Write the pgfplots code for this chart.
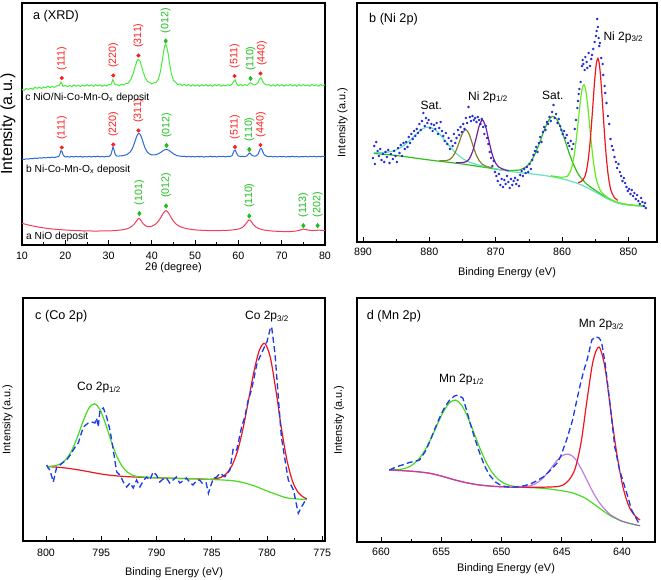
\documentclass[border=0pt]{standalone}
\usepackage{fontspec}
\setmainfont{Liberation Sans}
\usepackage{pgfplots}
\pgfplotsset{compat=1.18}

\definecolor{xgreen}{RGB}{70,235,60}
\definecolor{xblue}{RGB}{45,105,210}
\definecolor{xred}{RGB}{245,60,90}
\definecolor{lred}{RGB}{255,30,30}
\definecolor{lgreen}{RGB}{30,190,30}
\definecolor{dotblue}{RGB}{30,40,220}
\definecolor{fitred}{RGB}{240,20,30}
\definecolor{fitlime}{RGB}{100,235,30}
\definecolor{fitgreen}{RGB}{50,190,30}
\definecolor{fitpurple}{RGB}{120,30,160}
\definecolor{fitolive}{RGB}{130,130,50}
\definecolor{fitaqua}{RGB}{100,225,190}
\definecolor{dashblue}{RGB}{30,60,230}
\definecolor{mnpurple}{RGB}{170,80,220}
\definecolor{cogreen}{RGB}{70,220,30}

\pgfplotsset{
  panel/.style={
    scale only axis, anchor=south west,
    axis line style={line width=0.8pt},
    ytick=\empty, xtick pos=bottom, tick align=inside,
    major tick length=3.5pt, minor tick length=2pt,
    tick style={black,line width=0.6pt},
    minor x tick num=1,
    ticklabel style={font=\fontsize{8}{9.6}\selectfont},
    label style={font=\fontsize{8.2}{9.8}\selectfont},
    /pgf/number format/assume math mode=true,
    ylabel={Intensity (a.u.)},
  },
}
\tikzset{
  fit/.style={line width=0.9pt, smooth},
  dashd/.style={dashblue, line width=1pt, dash pattern=on 4.5pt off 2.5pt},
  hkl/.style={rotate=90, anchor=west, inner sep=0.5pt, font=\fontsize{8}{8}\selectfont},
  hklr/.style={hkl, text=lred},
  hklg/.style={hkl, text=lgreen},
  ttl/.style={anchor=west, inner sep=0pt, font=\fontsize{9.5}{11}\selectfont},
  pk/.style={inner sep=0pt, font=\fontsize{9}{10.8}\selectfont},
  smp/.style={anchor=west, inner sep=0pt, font=\fontsize{7.7}{9.2}\selectfont},
}

\begin{document}
\begin{tikzpicture}
\useasboundingbox (0,0) rectangle (495.75pt,434.25pt);

% ---------------- a (XRD)
\begin{axis}[panel, at={(16.5pt,250.5pt)}, width=227.25pt, height=181.5pt,
  xmin=10, xmax=80, ymin=0, ymax=242, xtick={10,20,...,80},
  xlabel={2θ (degree)},
  xlabel style={at={(axis description cs:0.5,0)}, anchor=center, yshift=-16.9pt},
  xticklabel style={yshift=-1.5pt},
  ylabel style={at={(axis description cs:-0.046,0.5)}, anchor=center, font=\fontsize{12}{14}\selectfont},
]
\addplot[xgreen, line width=0.75pt] coordinates {
(10,155.5)(10.5,154.7)(11,156.6)(11.5,155.6)(12,156.9)(12.5,155.7)(13,157.8)(13.5,156.7)(14,157.9)(14.5,156.5)(15,158.0)(15.5,157.2)(16,158.9)(16.5,157.4)(17,158.7)(17.5,157.5)(18,159.1)(18.5,159.4)(18.75,160.6)(19,163.0)(19.25,160.8)(19.5,158.6)(20,159.6)(20.5,158.2)(21,159.6)(21.5,158.2)(22,160.1)(22.5,158.8)(23,159.9)(23.5,158.5)(24,159.8)(24.5,158.8)(25,160.3)(25.5,159.0)(26,160.1)(26.5,158.6)(27,160.3)(27.5,159.1)(28,160.2)(28.5,158.7)(29,160.0)(29.5,158.9)(30,160.4)(30.5,160.3)(30.75,162.5)(31,165.5)(31.25,162.5)(31.5,160.2)(32,160.3)(32.5,159.3)(33,160.8)(33.5,160.0)(34,161.5)(34.5,161.7)(35,164.9)(35.25,166.2)(35.5,169.7)(35.75,172.0)(36,176.7)(36.25,179.7)(36.5,183.6)(36.75,185.5)(37,185.0)(37.25,184.1)(37.5,180.2)(37.75,177.2)(38,172.6)(38.25,170.2)(38.5,166.7)(38.75,165.5)(39,163.4)(39.5,162.6)(40,161.1)(40.5,162.2)(41,162.6)(41.25,164.3)(41.5,165.6)(41.75,169.7)(42,173.8)(42.25,180.7)(42.5,186.8)(42.75,194.3)(43,199.7)(43.25,200.5)(43.5,196.9)(43.75,191.9)(44,184.0)(44.25,177.8)(44.5,171.4)(44.75,168.1)(45,164.5)(45.5,162.7)(46,160.4)(46.5,161.2)(47,159.4)(47.5,160.5)(48,159.3)(48.5,160.5)(49,158.8)(49.5,160.4)(50,159.0)(50.5,160.2)(51,158.7)(51.5,160.3)(52,159.1)(52.5,160.5)(53,158.9)(53.5,160.1)(54,158.6)(54.5,160.4)(55,159.2)(55.5,160.6)(56,158.8)(56.5,160.0)(57,159.0)(57.5,160.3)(58,159.4)(58.5,160.9)(58.75,162.3)(59,164.0)(59.25,165.2)(59.5,162.1)(59.75,160.5)(60,159.2)(60.5,160.6)(61,159.1)(61.5,160.4)(62,159.3)(62.5,161.5)(62.75,162.2)(63,161.8)(63.5,160.1)(64,160.5)(64.5,162.0)(64.75,164.5)(65,166.5)(65.25,167.3)(65.5,165.0)(65.75,162.6)(66,161.3)(66.5,159.9)(67,160.6)(67.5,159.0)(68,160.3)(68.5,158.9)(69,160.5)(69.5,159.2)(70,160.4)(70.5,158.8)(71,160.1)(71.5,159.3)(72,160.6)(72.5,159.0)(73,160.2)(73.5,158.7)(74,160.4)(74.5,159.1)(75,160.5)(75.5,159.2)(76,160.0)(76.5,158.9)(77,160.6)(77.5,159.3)(78,160.2)(78.5,158.8)(79,160.4)(79.5,159.4)(80,160.1)};
\addplot[xblue, line width=0.75pt] coordinates {
(10,85.8)(10.5,85.6)(11,86.2)(11.5,85.9)(12,86.5)(12.5,86.3)(13,86.9)(13.5,86.6)(14,87.2)(14.5,86.9)(15,87.4)(15.5,87.1)(16,87.7)(16.5,87.3)(17,87.9)(17.5,87.5)(18,88.0)(18.5,88.6)(18.75,91.0)(19,94.3)(19.25,93.5)(19.5,89.9)(20,88.0)(20.5,88.5)(21,87.9)(21.5,88.6)(22,88.0)(22.5,88.7)(23,88.1)(23.5,88.6)(24,87.9)(24.5,88.5)(25,88.1)(25.5,88.7)(26,88.0)(26.5,88.6)(27,88.2)(27.5,88.8)(28,88.1)(28.5,88.6)(29,88.0)(29.5,88.7)(30,88.4)(30.5,89.8)(30.75,93.5)(31,98.0)(31.25,95.5)(31.5,91.0)(31.75,89.5)(32,88.8)(32.5,89.0)(33,89.1)(33.5,89.6)(34,90.1)(34.5,91.2)(35,93.1)(35.25,94.6)(35.5,96.6)(35.75,99.2)(36,102.3)(36.25,105.6)(36.5,108.6)(36.75,110.8)(37,111.6)(37.25,110.9)(37.5,108.8)(37.75,105.8)(38,102.4)(38.25,99.2)(38.5,96.4)(38.75,94.3)(39,92.7)(39.5,90.9)(40,90.1)(40.5,90.0)(41,90.4)(41.5,91.2)(42,92.5)(42.5,94.0)(43,95.3)(43.25,95.7)(43.5,95.5)(44,94.5)(44.5,92.8)(45,91.1)(45.5,90.0)(46,89.2)(46.5,88.9)(47,88.5)(47.5,88.8)(48,88.2)(48.5,88.7)(49,88.1)(49.5,88.6)(50,88.0)(50.5,88.7)(51,88.2)(51.5,88.6)(52,87.9)(52.5,88.5)(53,88.1)(53.5,88.8)(54,88.2)(54.5,88.6)(55,88.0)(55.5,88.7)(56,88.3)(56.5,88.6)(57,88.1)(57.5,88.7)(58,88.4)(58.5,89.2)(58.75,91.5)(59,94.2)(59.25,95.0)(59.5,92.6)(59.75,90.2)(60,89.0)(60.5,88.4)(61,88.7)(61.5,88.3)(62,89.2)(62.25,90.6)(62.5,92.0)(62.75,91.6)(63,90.1)(63.5,89.0)(64,88.9)(64.5,90.5)(64.75,93.0)(65,95.8)(65.25,96.7)(65.5,94.8)(65.75,92.0)(66,90.0)(66.5,88.8)(67,88.3)(67.5,88.7)(68,88.1)(68.5,88.6)(69,88.0)(69.5,88.7)(70,88.2)(70.5,88.6)(71,88.0)(71.5,88.5)(72,88.2)(72.5,88.8)(73,88.1)(73.5,88.6)(74,88.0)(74.5,88.5)(75,88.2)(75.5,88.7)(76,88.1)(76.5,88.6)(77,88.3)(77.5,88.7)(78,88.1)(78.5,88.6)(79,88.2)(79.5,88.7)(80,88.4)};
\addplot[xred, line width=0.75pt, smooth] coordinates {
(10,21.7)(11,20.5)(12,19.5)(13,18.6)(14,17.8)(15,17.1)(16,16.5)(17,16.0)(18,15.6)(19,15.3)(20,15.0)(22,14.5)(24,14.2)(26,14.0)(28,14.0)(30,14.1)(31,14.3)(32,14.6)(33,15.1)(34,15.9)(34.5,16.6)(35,17.6)(35.5,19.1)(36,21.3)(36.5,24.3)(36.9,26.5)(37.2,26.2)(37.5,24.5)(38,21.3)(38.5,19.3)(39,18.4)(39.5,18.3)(40,18.8)(40.5,19.8)(41,21.4)(41.5,23.8)(42,27.0)(42.5,30.8)(43,33.8)(43.3,34.3)(43.6,33.5)(44,31.0)(44.5,27.2)(45,23.8)(45.5,21.3)(46,19.6)(47,17.6)(48,16.4)(49,15.6)(50,15.1)(52,14.6)(54,14.4)(56,14.5)(58,14.8)(59,15.2)(60,16.0)(60.5,16.7)(61,17.9)(61.5,20.0)(62,23.0)(62.4,25.0)(62.7,24.8)(63,23.2)(63.5,20.2)(64,18.2)(64.5,16.9)(65,16.0)(66,14.9)(67,14.3)(68,13.9)(70,13.5)(72,13.5)(73,13.8)(74,14.6)(74.5,15.3)(75,15.8)(75.5,15.6)(76,15.0)(77,14.5)(78,14.6)(78.5,14.9)(79,14.7)(80,14.3)};
% peak markers
\addplot[only marks, mark=*, mark size=1.3pt, lred] coordinates {
(19.2,167)(31.1,169.5)(36.9,189.5)(59.1,169)(65.1,171.5)
(19.2,97.5)(31.1,100.5)(36.9,114.5)(59.2,98)(65.1,100)};
\addplot[only marks, mark=diamond*, mark size=1.7pt, lgreen] coordinates {
(43.2,204)(62.8,166.5)(43.4,99.5)(62.5,95.5)
(37.1,31.5)(43.3,39)(62.5,29)(75.0,19.3)(78.3,19.3)};
\node[hklr] at (axis cs:19.2,174) {(111)};
\node[hklr] at (axis cs:31.1,176.5) {(220)};
\node[hklr] at (axis cs:36.9,196.5) {(311)};
\node[hklg] at (axis cs:43.2,211) {(012)};
\node[hklr] at (axis cs:59.1,176) {(511)};
\node[hklg] at (axis cs:62.8,173.5) {(110)};
\node[hklr] at (axis cs:65.4,178.5) {(440)};
\node[hklr] at (axis cs:19.2,104.5) {(111)};
\node[hklr] at (axis cs:31.1,107.5) {(220)};
\node[hklr] at (axis cs:36.9,121.5) {(311)};
\node[hklg] at (axis cs:43.4,106.5) {(012)};
\node[hklr] at (axis cs:59.2,105) {(511)};
\node[hklg] at (axis cs:62.5,102.5) {(110)};
\node[hklr] at (axis cs:65.2,107) {(440)};
\node[hklg] at (axis cs:37.1,39) {(101)};
\node[hklg] at (axis cs:43.3,46.5) {(012)};
\node[hklg] at (axis cs:62.5,36.5) {(110)};
\node[hklg] at (axis cs:75.0,26.8) {(113)};
\node[hklg] at (axis cs:78.3,26.8) {(202)};
\node[ttl] at (axis cs:12.5,228.5) {a (XRD)};
\node[smp] at (axis cs:10.7,147) {c NiO/Ni-Co-Mn-O\textsubscript{x} deposit};
\node[smp] at (axis cs:10.9,75) {b Ni-Co-Mn-O\textsubscript{x} deposit};
\node[smp] at (axis cs:10.9,8) {a NiO deposit};
\end{axis}

% ---------------- b (Ni 2p)
\begin{axis}[panel, at={(267.75pt,252.75pt)}, width=225pt, height=179.25pt,
  x dir=reverse, xmin=845.7, xmax=890.9, ymin=0, ymax=239, xtick={850,860,...,890},
  xlabel={Binding Energy (eV)},
  xlabel style={at={(axis description cs:0.5,0)}, anchor=center, yshift=-23.25pt},
  xticklabel style={yshift=-1.2pt},
  ylabel style={at={(axis description cs:-0.048,0.5)}, anchor=center},
]
\addplot[fit, fitgreen] coordinates {
(888.4,88.5)(887,87.8)(886,87.2)(885,86.5)(884,85.6)(883,84.7)(882,83.8)(881,82.9)(880,82.0)(879,81.2)(878,80.4)(877,79.6)(876,78.8)(875,78.0)(874,77.0)(873,76.0)(872,75.0)(871,74.0)(870,72.8)(869.3,72.2)(868.3,71.5)(867.3,71.6)(866.3,72.2)(865.3,75.8)(864.8,79.6)(864.3,85.2)(863.8,92.3)(863.3,100.8)(862.8,109.9)(862.3,118.2)(861.8,123.9)(861.3,125.6)(860.8,122.7)(860.3,115.8)(859.8,106.4)(859.3,96.2)(858.8,86.3)(858.3,77.8)(857.8,70.8)(857.3,65.3)(856.3,58.0)(855.3,53.1)(854.3,48.5)(853.3,44.6)(852.3,41.0)(851.3,38.6)(850,37.2)(849,36.5)(848,36.0)(847.5,35.8)};
\addplot[fit, fitaqua] coordinates {
(888.4,89.4)(887,89.5)(886,90.2)(885,92.1)(884,95.7)(883,101.2)(882,107.8)(881,113.3)(880,115.0)(879,111.6)(878,104.4)(877,96.1)(876,88.9)(875,83.6)(874,80.0)(873,77.7)(872,76.1)(871,74.7)(870,73.3)(869,71.8)(868,70.8)(867,69.9)(866,69.1)(865,68.4)(864,67.6)(863,66.8)(862,65.8)(861,64.6)(860,63.2)(859,61.5)(858,59.4)(857,56.8)(856,53.6)(855,50.0)(854,46.2)(853,42.6)(852,39.8)(851,38.0)(850,37.0)(849,36.4)(848,36.0)(847.5,35.8)};
\addplot[fit, fitolive] coordinates {
(878.5,81.4)(878,81.2)(877.5,81.3)(877,82.3)(876.5,85.2)(876,91.0)(875.5,99.8)(875,108.8)(874.5,112.5)(874,107.8)(873.5,97.9)(873,88.2)(872.5,81.5)(872,77.7)(871.5,75.8)(871,74.8)(870.5,74.0)};
\addplot[fit, fitpurple] coordinates {
(876,79.4)(875.5,79.3)(875,79.5)(874.5,80.1)(874,83.0)(873.5,90.2)(873,102.4)(872.5,115.9)(872,122.0)(871.5,114.9)(871,100.4)(870.5,87.1)(870,78.8)(869.5,74.8)(869,73.1)(868.5,72.0)(868,71.2)};
\addplot[fit, fitlime] coordinates {
(861.7,66.3)(860.7,65.2)(860.2,64.8)(859.7,64.9)(859.2,65.8)(858.7,71.4)(858.45,77.2)(858.2,85.9)(857.95,97.9)(857.7,112.5)(857.45,128.4)(857.2,143.3)(856.95,154.0)(856.7,157.3)(856.45,152.4)(856.2,140.1)(855.95,123.6)(855.7,106.2)(855.45,90.0)(855.2,76.6)(854.95,66.5)(854.7,59.3)(854.2,51.2)(853.7,47.4)(853.2,44.8)(852.7,42.8)(851.7,39.8)(850.7,38.2)(850,37.4)(849,36.6)(848,36.1)(847.5,35.9)};
\addplot[fit, fitred] coordinates {
(857.6,59.5)(857.1,60.5)(856.6,65.0)(856.35,70.7)(856.1,80.4)(855.85,95.0)(855.6,114.8)(855.35,137.8)(855.1,160.7)(854.85,177.9)(854.6,183.7)(854.35,176.0)(854.1,156.9)(853.85,132.3)(853.6,107.4)(853.35,85.8)(853.1,69.4)(852.85,58.1)(852.6,50.9)(852.1,44.2)(851.6,41.7)};
\addplot[only marks, mark=*, mark size=0.7pt, dotblue] coordinates {
(888.5,84)(888.3,96)(888.2,78)(888.0,100)(887.8,91)(887.6,86)(887.4,93)(887.2,82)(887.0,88)(886.8,80)(886.6,90)(886.4,85)(886.2,92)(886.0,79)(885.8,88)(885.5,83)(885.3,91)(885.1,86)(884.9,80)(884.7,94)(884.5,89)(884.3,97)(884.1,86)(883.9,99)(883.7,93)(883.5,100)(883.3,95)(883.1,105)(882.9,99)(882.7,108)(882.5,103)(882.3,111)(882.1,106)(881.9,113)(881.7,109)(881.5,118)(881.3,112)(881.1,121)(880.9,129)(880.7,116)(880.5,124)(880.3,119)(880.1,122)(879.9,114)(879.7,118)(879.5,111)(879.3,117)(879.1,113)(878.9,119)(878.7,108)(878.5,114)(878.3,120)(878.1,111)(877.9,106)(877.7,101)(877.5,109)(877.3,98)(877.1,104)(876.9,93)(876.7,101)(876.5,96)(876.3,108)(876.1,99)(875.9,104)(875.7,112)(875.5,107)(875.3,115)(875.1,110)(874.9,118)(874.7,113)(874.5,124)(874.3,119)(874.1,135)(873.9,125)(873.7,121)(873.5,126)(873.3,122)(873.1,124)(872.9,120)(872.7,125)(872.5,122)(872.3,118)(872.1,123)(871.9,115)(871.7,108)(871.5,116)(871.3,104)(871.1,98)(870.9,90)(870.7,84)(870.5,76)(870.3,81)(870.1,70)(869.9,66)(869.7,61)(869.5,68)(869.3,57)(869.1,63)(868.9,55)(868.7,62)(868.5,58)(868.3,66)(868.1,60)(867.9,54)(867.7,63)(867.5,57)(867.3,61)(867.1,64)(866.9,58)(866.7,62)(866.5,56)(866.3,67)(866.1,71)(865.9,66)(865.7,73)(865.5,69)(865.3,75)(865.1,70)(864.9,78)(864.7,73)(864.5,82)(864.3,87)(864.1,91)(863.9,95)(863.7,90)(863.5,99)(863.3,105)(863.1,100)(862.9,110)(862.7,115)(862.5,112)(862.3,120)(862.1,118)(861.9,125)(861.7,121)(861.5,130)(861.3,137)(861.1,124)(860.9,128)(860.7,119)(860.5,123)(860.3,116)(860.1,112)(859.9,108)(859.7,111)(859.5,104)(859.3,107)(859.1,99)(858.9,96)(858.7,101)(858.5,93)(858.3,98)(858.1,113)(857.9,122)(857.7,134)(857.6,141)(857.5,148)(857.4,153)(857.2,160)(857.0,176)(856.9,182)(856.8,178)(856.6,172)(856.5,185)(856.3,180)(856.2,174)(856.0,189)(855.8,176)(855.6,183)(855.5,187)(855.3,193)(855.1,200)(854.9,206)(854.8,211)(854.7,223)(854.6,215)(854.5,204)(854.4,196)(854.3,199)(854.1,184)(853.9,178)(853.8,167)(853.6,156)(853.5,149)(853.3,139)(853.1,126)(852.9,118)(852.7,103)(852.5,96)(852.3,92)(852.1,85)(851.9,80)(851.7,74)(851.5,78)(851.3,70)(851.1,66)(850.9,61)(850.7,64)(850.5,59)(850.3,55)(850.1,51)(849.9,53)(849.7,48)(849.5,52)(849.3,46)(849.1,49)(848.9,43)(848.7,47)(848.5,41)(848.3,38)(848.1,44)(847.9,40)(847.7,36)(847.5,39)(847.4,34)};
\node[ttl] at (axis cs:889.1,223) {b (Ni 2p)};
\node[pk] at (axis cs:879.7,137) {Sat.};
\node[pk, anchor=west] at (axis cs:874.2,145) {Ni 2p\textsubscript{1/2}};
\node[pk] at (axis cs:861.4,147) {Sat.};
\node[pk, anchor=west] at (axis cs:853.8,205) {Ni 2p\textsubscript{3/2}};
\end{axis}

% ---------------- c (Co 2p)
\begin{axis}[panel, at={(17.25pt,28.5pt)}, width=226.5pt, height=182.25pt,
  x dir=reverse, xmin=774.75, xmax=802.08, ymin=0, ymax=243, xtick={775,780,...,800},
  xlabel={Binding Energy (eV)},
  xlabel style={at={(axis description cs:0.5,0)}, anchor=center, yshift=-23.6pt},
  xticklabel style={yshift=-2.7pt},
  ylabel style={at={(axis description cs:-0.051,0.5)}, anchor=center},
]
\addplot[fit, fitred] coordinates {
(799.8,74.3)(799,73.8)(798,72.7)(797,71.0)(796,69.0)(795,67.0)(794,65.5)(793,64.6)(792,64.0)(790,63.2)(788,62.6)(786,62.0)(785.2,61.6)(784.7,62.2)(784.2,63.5)(783.7,67.0)(783.2,74.7)(782.7,88.8)(782.2,110.8)(781.7,139.0)(781.2,168.4)(780.7,190.4)(780.2,197.6)(779.7,183.6)(779.2,151.2)(778.7,113.1)(778.2,81.2)(777.7,60.1)(777.2,48.9)(776.7,43.8)(776.4,42.3)};
\addplot[fit, cogreen] coordinates {
(799.8,74.5)(799.1,75.5)(798.6,77.7)(798.1,82.8)(797.6,92.1)(797.1,105.6)(796.6,120.9)(796.1,133.1)(795.6,137.2)(795.1,131.1)(794.6,116.9)(794.1,99.8)(793.6,85.0)(793.1,74.6)(792.6,68.6)(792.1,65.6)(791.6,64.3)(790,63.2)(788,62.6)(786,62.0)(784,61.0)(783,60.2)(782,58.0)(781,54.5)(780,50.0)(779,46.0)(778.5,44.0)(778,42.8)(777,41.8)(776.4,41.3)};
\addplot[dashd] coordinates {
(799.94,76)(799.8,73)(799.64,71)(799.34,59)(799.03,74)(798.73,76)(798.4,79)(798.13,81)(797.8,86)(797.53,91)(797.3,95)(797.08,98)(796.85,106)(796.62,114)(796.4,116)(796.17,118)(795.87,119)(795.57,118)(795.42,123)(795.27,114)(795.11,131)(794.81,133)(794.51,124)(794.21,111)(793.91,91)(793.6,69)(793.3,66)(793.0,59)(792.7,54)(792.4,58)(792.1,53)(791.8,61)(791.5,54)(791.2,60)(790.9,64)(790.6,61)(790.3,69)(790.0,66)(789.7,59)(789.4,62)(789.1,63)(788.8,58)(788.5,61)(788.2,64)(787.9,58)(787.6,60)(787.3,63)(787.0,59)(786.7,56)(786.4,60)(786.1,61)(785.8,57)(785.5,58)(785.3,47.7)(785.1,55)(784.85,62.7)(784.55,64)(784.25,67.7)(783.8,64.3)(783.35,71)(783.05,92.7)(782.74,91)(782.29,114.3)(782.0,124.3)(781.7,141)(781.4,151)(780.9,177.7)(780.5,187.7)(780.0,199.3)(779.7,212.7)(779.58,214.3)(779.28,187.7)(779.0,147.7)(778.7,104.3)(778.37,81)(778.07,61)(777.6,51)(777.17,27.7)(776.86,34.3)(776.41,42.7)};
\node[ttl] at (axis cs:801.0,225) {c (Co 2p)};
\node[pk, anchor=west] at (axis cs:782.0,224.5) {Co 2p\textsubscript{3/2}};
\node[pk, anchor=west] at (axis cs:797.2,153) {Co 2p\textsubscript{1/2}};
\end{axis}

% ---------------- d (Mn 2p)
\begin{axis}[panel, at={(267.75pt,27.75pt)}, width=223.5pt, height=183pt,
  x dir=reverse, xmin=637.26, xmax=661.99, ymin=0, ymax=244, xtick={640,645,...,660},
  xlabel={Binding Energy (eV)},
  xlabel style={at={(axis description cs:0.5,0)}, anchor=center, yshift=-20.25pt},
  xticklabel style={yshift=-1.2pt},
  ylabel style={at={(axis description cs:-0.06,0.5)}, anchor=center},
]
\addplot[fit, cogreen] coordinates {
(659.3,72.3)(658.8,72.3)(658.3,72.8)(657.8,74.5)(657.3,78.0)(656.8,83.9)(656.3,92.9)(655.8,104.7)(655.3,118.2)(654.8,130.6)(654.3,139.4)(653.8,141.9)(653.3,136.6)(652.8,125.0)(652.3,109.7)(651.8,94.1)(651.3,80.4)(650.8,70.0)(650.3,63.0)(649.8,58.8)(649.3,56.5)(648.8,55.4)(648,54.5)(647,54.0)(646,53.0)(645,51.2)(644,48.7)(643,43.5)(642,35.0)(641,26.5)(640,20.8)(639,17.5)(638.5,16.3)};
\addplot[fit, fitred] coordinates {
(659.3,72)(658,71.2)(657,70.3)(656,68.8)(655,66)(654,62.5)(653,59.5)(652,57.3)(651,56)(650,55.2)(649,54.8)(648,54.7)(647,54.7)(646,55.0)(645.4,55.4)(644.9,56.9)(644.4,62.0)(643.9,73.0)(643.4,99.0)(642.9,142.0)(642.4,181.0)(641.9,194.9)(641.4,173.7)(640.9,128.2)(640.4,86)(639.9,54)(639.4,35)(638.9,26)(638.5,22)};
\addplot[fit, mnpurple, opacity=0.75] coordinates {
(659.3,72)(658,71.2)(657,70.3)(656,68.8)(655,66)(654,62.5)(653,59.5)(652,57.3)(651,56)(650,55.2)(649,54.8)(648.5,54.9)(647.95,55.4)(647.45,56.9)(646.95,59.9)(646.45,65.3)(645.95,72.7)(645.45,80.7)(644.95,86.4)(644.45,87.9)(643.95,84.2)(643.45,74.6)(642.95,62.9)(642.45,50.8)(641.95,40.6)(641.45,33.0)(640.95,27.2)(640.45,23.6)(640,20.8)(639,17.5)(638.5,16.3)};
\addplot[dashd] coordinates {
(659.3,72)(658.7,75.3)(658.1,77.5)(657.6,79.7)(657.2,80.5)(656.8,82)(656.3,91)(655.9,102)(655.5,114)(655.1,125.3)(654.7,135)(654.3,142)(653.9,146)(653.6,147)(653.2,143.7)(652.9,132)(652.6,118.7)(652.2,103)(651.8,88.7)(651.4,76)(651.0,67)(650.5,60)(650.1,57)(649.7,55.5)(649.3,54.7)(648.7,55.2)(648.2,56)(647.6,58)(647.1,61)(646.5,65.3)(646.0,71)(645.4,78.7)(645.1,85.3)(644.6,102)(644.1,122)(643.8,139)(643.5,155.3)(643.2,170)(642.9,182)(642.5,202)(642.2,205.3)(641.9,204)(641.7,200.3)(641.4,178.7)(641.0,138.7)(640.6,95.3)(640.2,72)(639.6,48.7)(639.2,32)(638.6,18.7)};
\node[ttl] at (axis cs:661.2,226) {d (Mn 2p)};
\node[pk, anchor=west] at (axis cs:643.6,217) {Mn 2p\textsubscript{3/2}};
\node[pk, anchor=west] at (axis cs:655.2,162) {Mn 2p\textsubscript{1/2}};
\end{axis}
\end{tikzpicture}
\end{document}
